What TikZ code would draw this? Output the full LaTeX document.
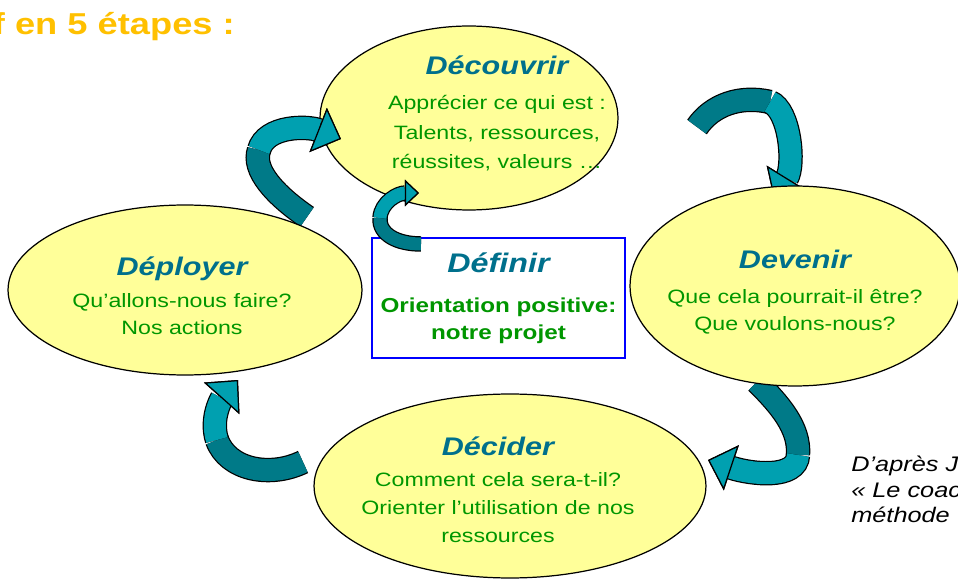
\documentclass[tikz,border=0pt]{standalone}
\usepackage{fontspec}
\setmainfont[FakeStretch=1.2]{Liberation Sans}
\usepackage{tikz}
\usetikzlibrary{shapes.geometric, arrows.meta}
\definecolor{jaunepale}{RGB}{255,255,153}
\definecolor{tealclair}{RGB}{0,160,176}
\definecolor{tealfonce}{RGB}{0,122,136}
\definecolor{bleutitre}{RGB}{0,112,140}
\definecolor{vertcorps}{RGB}{0,150,0}
\definecolor{orangetitre}{RGB}{255,192,0}
\newcommand{\nometape}[1]{{\fontsize{14.5}{18}\selectfont\bfseries\itshape\color{bleutitre}#1}}
\tikzset{
  etape/.style={ellipse, draw=black, line width=0.7pt, fill=jaunepale, inner sep=0pt},
  corps/.style={align=center, text=vertcorps, inner sep=0pt, anchor=north, font=\fontsize{11}{#1}\selectfont},
  corps/.default=16pt,
  cadre/.style={draw=blue, line width=0.7pt, fill=white, inner sep=0pt, align=center, text=vertcorps, font=\fontsize{11.5}{15}\selectfont\bfseries},
  queue/.style={draw=tealfonce, line width=12.5pt, preaction={draw=black, line width=13.9pt}},
  tete/.style={draw=tealclair, line width=12.5pt, -{Triangle[width=27pt,length=14pt,line width=0.7pt,color=black,fill=tealclair]}, preaction={draw=black, line width=13.9pt}},
  petitequeue/.style={draw=tealfonce, line width=7.4pt, preaction={draw=black, line width=8.8pt}},
  petitetete/.style={draw=tealclair, line width=7.4pt, -{Triangle[width=15pt,length=8pt,line width=0.7pt,color=black,fill=tealclair]}, preaction={draw=black, line width=8.8pt}},
}
\begin{document}
\begin{tikzpicture}[x=0.02cm, y=-0.02cm]
\useasboundingbox (0,0) rectangle (958,581);
\node[anchor=base east, font=\fontsize{17.2}{20}\selectfont\bfseries, text=orangetitre] (titre) at (241,35) {f en 5 étapes :};

% étape du haut, sous les rubans
\node[etape, minimum width=5.96cm, minimum height=3.68cm] (decouvrir) at (469,118) {};
\node[corps=17pt] (decouvrir-txt) at (497,55) {\nometape{Découvrir}\\[3pt] Apprécier ce qui est :\\ Talents, ressources,\\ réussites, valeurs …};

% rubans entre les étapes
\coordinate (a1q) at (307,217); \coordinate (a1t) at (259,150); \coordinate (a1p) at (341,139);
\coordinate (a2q) at (697,127); \coordinate (a2t) at (770,102); \coordinate (a2p) at (774,199);
\coordinate (a3q) at (757,382); \coordinate (a3t) at (798,455); \coordinate (a3p) at (708,460);
\coordinate (a4q) at (303,462); \coordinate (a4t) at (217,440); \coordinate (a4p) at (238,380);
\draw[queue] (a1q) .. controls (275,195) and (252,170) .. (a1t);
\draw[tete] (a1t) .. controls (266,125) and (308,126) .. (a1p);
\draw[queue] (a2q) .. controls (712,105) and (740,95) .. (a2t);
\draw[tete] (a2t) .. controls (790,110) and (795,165) .. (a2p);
\draw[queue] (a3q) .. controls (780,405) and (800,428) .. (a3t);
\draw[tete] (a3t) .. controls (797,480) and (750,474) .. (a3p);
\draw[queue] (a4q) .. controls (270,478) and (228,470) .. (a4t);
\draw[tete] (a4t) .. controls (210,418) and (222,398) .. (a4p);

% les trois autres étapes
\node[etape, minimum width=6.6cm, minimum height=4cm] (devenir) at (795,286) {};
\node[corps=15pt] (devenir-txt) at (795,250) {\nometape{Devenir}\\[5pt] Que cela pourrait-il être?\\ Que voulons-nous?};
\node[etape, minimum width=7.08cm, minimum height=3.4cm] (deployer) at (185,290) {};
\node[corps=15.5pt] (deployer-txt) at (182,256) {\nometape{Déployer}\\[3pt] Qu’allons-nous faire?\\ Nos actions};
\node[etape, minimum width=7.84cm, minimum height=3.68cm] (decider) at (510,486) {};
\node[corps=16pt] (decider-txt) at (498,436) {\nometape{Décider}\\[2pt] Comment cela sera-t-il?\\ Orienter l’utilisation de nos\\ ressources};

% cadre central
\node[cadre, minimum width=5.06cm, minimum height=2.4cm] (definir) at (498.5,298) {{\fontsize{15.3}{18}\selectfont\itshape\color{bleutitre}Définir}\\[8pt] Orientation positive:\\ notre projet};
\coordinate (a5q) at (421,244); \coordinate (a5t) at (380,218); \coordinate (a5p) at (419,193);
\draw[petitequeue] (a5q) .. controls (398,244) and (379,235) .. (a5t);
\draw[petitetete] (a5t) .. controls (381,202) and (398,193) .. (a5p);

\node[anchor=north west, align=left, inner sep=0pt, font=\fontsize{12}{14.5}\selectfont\itshape] (source) at (851,456) {D’après J\\«~Le coac\\méthode};
\end{tikzpicture}
\end{document}
